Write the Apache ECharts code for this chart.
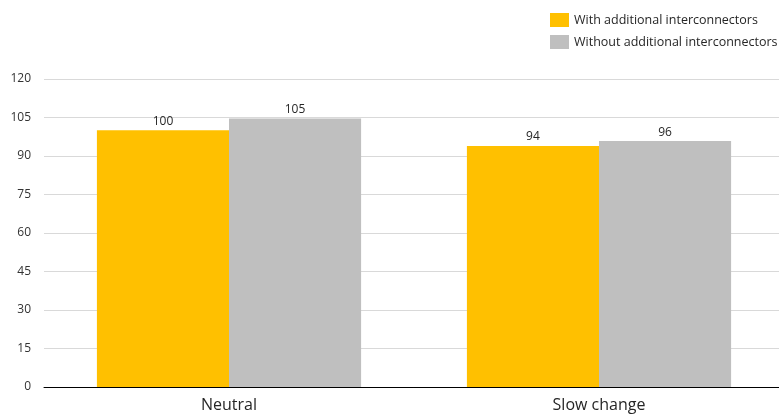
<!DOCTYPE html>
<html><head><meta charset="utf-8">
<script src="https://cdn.jsdelivr.net/npm/echarts@6/dist/echarts.min.js"></script>
<style>html,body{margin:0;padding:0;background:#fff;overflow:hidden}#c{width:784px;height:414px}</style>
</head><body><div id="c"></div>
<script>
const categories = ["Neutral", "Slow change"];
const seriesNames = ["With additional interconnectors", "Without additional interconnectors"];
const withValues = [100, 93.9];
const withoutValues = [104.6, 95.8];
const yTicks = [0, 15, 30, 45, 60, 75, 90, 105, 120];
const colors = ["#FFC000", "#BFBFBF"];
const font = "'Open Sans', 'Noto Sans', sans-serif";
const chart = echarts.init(document.getElementById('c'));
const lbl = {show: true, position: 'top', fontSize: 12, color: '#262626', distance: 3, fontFamily: font,
  formatter: p => Math.round(p.value)};
chart.setOption({
  animation: false,
  textStyle: {fontFamily: font},
  legend: {
    orient: 'vertical', left: 550, top: 13, padding: 0,
    itemWidth: 19, itemHeight: 14, itemGap: 8,
    textStyle: {fontSize: 12.5, color: '#262626', fontFamily: font},
    data: seriesNames, icon: 'rect'
  },
  grid: {left: 44, right: 0, top: 79, bottom: 27, containLabel: false},
  xAxis: {
    type: 'category', data: categories,
    axisLine: {lineStyle: {color: '#000', width: 1}},
    axisTick: {show: false},
    axisLabel: {fontSize: 16, color: '#262626', margin: 10, fontFamily: font}
  },
  yAxis: {
    type: 'value', min: yTicks[0], max: yTicks[yTicks.length - 1], interval: yTicks[1] - yTicks[0],
    axisLine: {show: false}, axisTick: {show: false},
    axisLabel: {fontSize: 12, color: '#333', margin: 13, fontFamily: font},
    splitLine: {lineStyle: {color: '#D9D9D9', width: 1}}
  },
  series: [
    {name: seriesNames[0], type: 'bar', data: withValues, barGap: '0%', barCategoryGap: '28.6%',
     itemStyle: {color: colors[0]}, label: lbl},
    {name: seriesNames[1], type: 'bar', data: withoutValues, barGap: '0%', barCategoryGap: '28.6%',
     itemStyle: {color: colors[1]}, label: lbl}
  ]
});
</script></body></html>
